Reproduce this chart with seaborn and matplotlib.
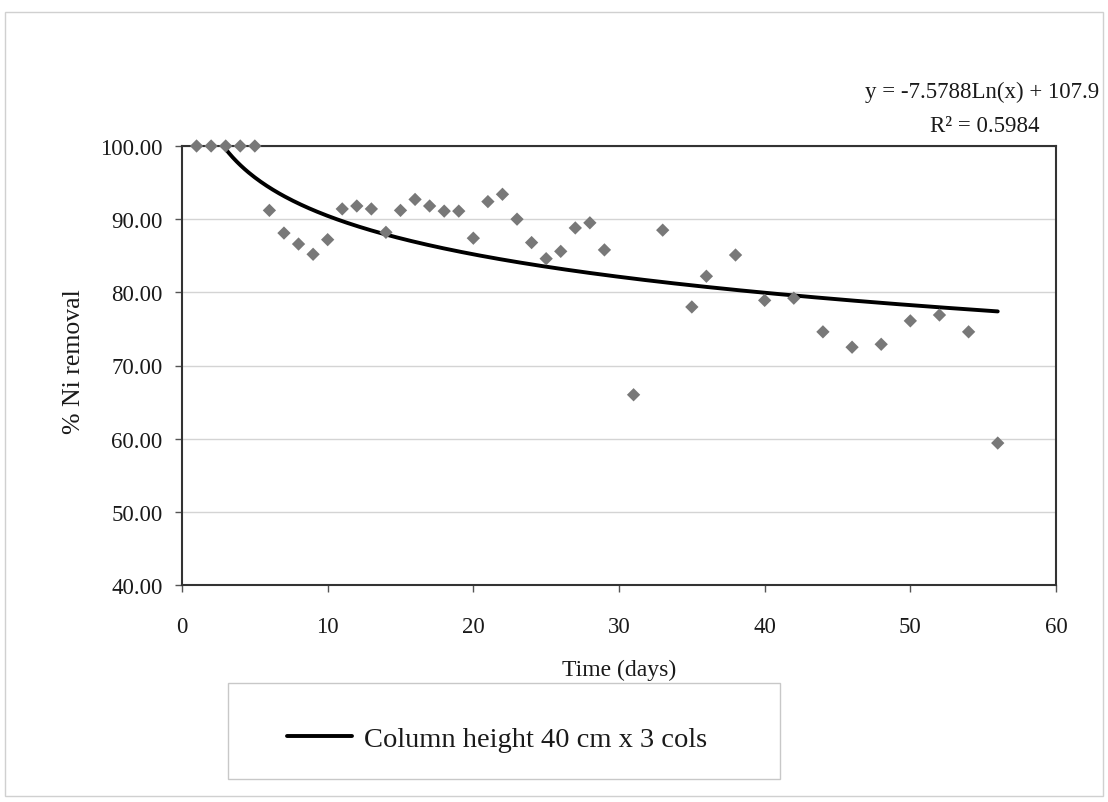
import numpy as np
import pandas as pd
import matplotlib
matplotlib.use("Agg")
import matplotlib.pyplot as plt
import seaborn as sns
from matplotlib.patches import Rectangle
from matplotlib.ticker import FormatStrFormatter

# ---- data ----
days = [1, 2, 3, 4, 5, 6, 7, 8, 9, 10, 11, 12, 13, 14, 15, 16, 17, 18, 19, 20,
        21, 22, 23, 24, 25, 26, 27, 28, 29, 31, 33, 35, 36, 38, 40, 42, 44, 46,
        48, 50, 52, 54, 56]
removal = [100.0, 100.0, 100.0, 100.0, 100.0, 91.2, 88.1, 86.6, 85.2, 87.2,
           91.4, 91.8, 91.4, 88.2, 91.2, 92.7, 91.8, 91.1, 91.1, 87.4,
           92.4, 93.4, 90.0, 86.8, 84.6, 85.6, 88.8, 89.5, 85.8, 66.0,
           88.5, 78.0, 82.2, 85.1, 78.9, 79.2, 74.6, 72.5, 72.9, 76.1,
           76.9, 74.6, 59.4]

# logarithmic trendline as printed on the chart
trend_slope = -7.5788
trend_intercept = 107.9
trend_r2 = 0.5984
series_label = "Column height 40 cm x 3 cols"
x_ticks = [0, 10, 20, 30, 40, 50, 60]
y_ticks = [40, 50, 60, 70, 80, 90, 100]

df = pd.DataFrame({"day": days, "removal": removal})
x_fit = np.linspace(min(days), max(days), 400)
trend_df = pd.DataFrame({"day": x_fit,
                         "removal": trend_slope * np.log(x_fit) + trend_intercept})

sns.set_theme(style="white")
plt.rcParams['font.family'] = ['Liberation Serif', 'DejaVu Serif']

W, H = 1108, 803
fig = plt.figure(figsize=(W / 100, H / 100), dpi=100)
fig.patch.set_facecolor("white")

def fx(px):
    return px / W

def fy(py):
    return 1 - py / H

ax = fig.add_axes([fx(182), fy(586), fx(1056) - fx(182), fy(147) - fy(586)])

sns.lineplot(data=trend_df, x="day", y="removal", ax=ax, color="black",
             linewidth=2.8, label=series_label, zorder=3)
sns.scatterplot(data=df, x="day", y="removal", ax=ax, marker="D", s=46,
                color="#787878", edgecolor="none", clip_on=False, zorder=5,
                legend=False)

ax.set_xlim(0, 60)
ax.set_ylim(40, 100)
ax.set_xticks(x_ticks)
ax.set_yticks(y_ticks)
ax.yaxis.set_major_formatter(FormatStrFormatter("%.2f"))
ax.yaxis.grid(True, color="#d4d4d4", linewidth=1)
ax.xaxis.grid(False)
for sp in ax.spines.values():
    sp.set_color("#333333")
    sp.set_linewidth(1.5)
ax.tick_params(axis="both", which="major", bottom=True, left=True,
               direction="out", length=5, width=1, color="#555555",
               labelsize=16.5, labelcolor="#1a1a1a")
ax.tick_params(axis="x", pad=17)
ax.tick_params(axis="y", pad=9)

ax.set_xlabel("Time (days)", fontsize=17, color="#1a1a1a", labelpad=16)
ax.set_ylabel("")
fig.text(fx(74), fy(362), "% Ni removal", rotation=90, ha="center",
         va="center", fontsize=18.5, color="#1a1a1a")

handles, labels = ax.get_legend_handles_labels()
if ax.get_legend() is not None:
    ax.get_legend().remove()

# equation and R² annotation
fig.text(fx(865), fy(92), f"y = {trend_slope}Ln(x) + {trend_intercept}",
         ha="left", va="center", fontsize=16.5, color="#1a1a1a")
fig.text(fx(1040), fy(127), f"R² = {trend_r2}", ha="right", va="center",
         fontsize=16.5, color="#1a1a1a")

# legend box
fig.patches.append(Rectangle((fx(228), fy(780)), fx(780) - fx(228),
                             fy(684) - fy(780), transform=fig.transFigure,
                             facecolor="white", edgecolor="#c8c8c8",
                             linewidth=1, zorder=0))
fig.legend(handles, labels, loc="center", bbox_to_anchor=(fx(497), fy(740)),
           frameon=False, fontsize=20.5, handlelength=2.3, handletextpad=0.4,
           labelcolor="#1a1a1a")

# outer chart border
fig.patches.append(Rectangle((fx(5), fy(797)), fx(1103) - fx(5),
                             fy(13) - fy(797), transform=fig.transFigure,
                             facecolor="none", edgecolor="#d0d0d0",
                             linewidth=1, zorder=0))

fig.savefig("out.png", dpi=100)
